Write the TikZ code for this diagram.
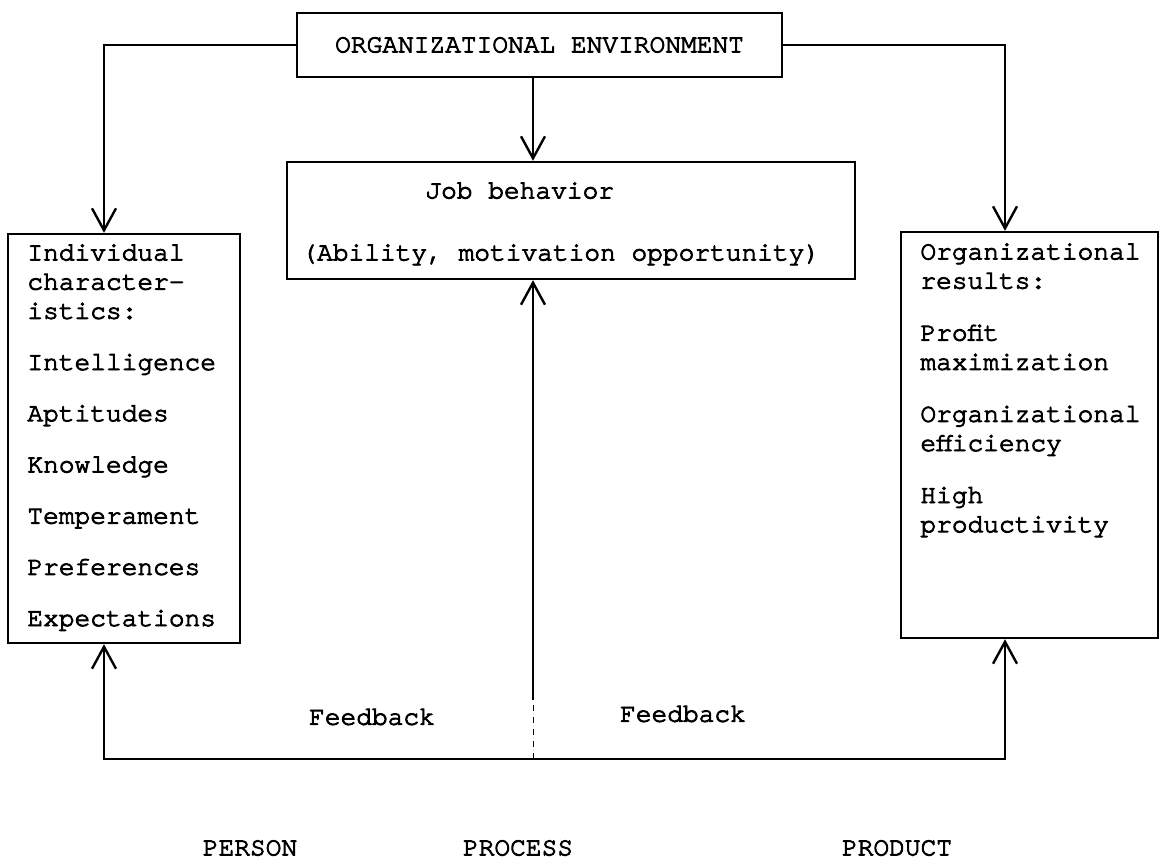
\documentclass[tikz,border=0pt]{standalone}
\usepackage{fontspec}
\setmonofont[FakeBold=3.5]{TeX Gyre Cursor}
\usetikzlibrary{arrows.meta}

\tikzset{
  box/.style={draw, line width=1.2pt, inner sep=0pt},
  txt/.style={font=\ttfamily\fontsize{13.1}{14.6}\selectfont, inner sep=0pt},
  flow/.style={line width=1pt, -{Straight Barb[length=11pt,width=12pt,line width=1.2pt]}},
}

\begin{document}
\begin{tikzpicture}[x=0.5pt,y=0.5pt,yscale=-1]
  \useasboundingbox (0,0) rectangle (1160,859);

  % boxes
  \node[box, txt, minimum width=242.5pt, minimum height=32pt] (env) at (539.5,45) {ORGANIZATIONAL ENVIRONMENT};
  \node[box, minimum width=284pt, minimum height=58.5pt] (job) at (571,220.5) {};
  \node[box, minimum width=116pt, minimum height=204.5pt] (indiv) at (124,438.5) {};
  \node[box, minimum width=128.5pt, minimum height=203pt] (org) at (1029.5,435) {};

  % box texts
  \node[txt, anchor=north west, align=left] (jobtxt) at (301,182) {\hspace*{62pt}Job behavior\\[16.4pt](Ability, motivation opportunity)};
  \node[txt, anchor=north west, align=left] (indivtxt) at (27,244) {Individual\\character-\\istics:\\[11pt]Intelligence\\[11pt]Aptitudes\\[11pt]Knowledge\\[11pt]Temperament\\[11pt]Preferences\\[11pt]Expectations};
  \node[txt, anchor=north west, align=left] (orgtxt) at (920,243) {Organizational\\results:\\[11.4pt]Profit\\maximization\\[11.4pt]Organizational\\efficiency\\[11.4pt]High\\productivity};

  % feedback loop
  \coordinate (lfoot) at (104,759);
  \coordinate (mfoot) at (533,759);
  \coordinate (mgap) at (533,700);
  \coordinate (rfoot) at (1005,759);

  \draw[flow] (env.west) -| (indiv.north -| lfoot);
  \draw[flow] (env.east) -| (org.north -| rfoot);
  \draw[flow] (env.south -| mfoot) -- (job.north -| mfoot);
  \draw[flow] (mfoot) -- (lfoot) -- (indiv.south -| lfoot);
  \draw[flow] (mfoot) -- (rfoot) -- (org.south -| rfoot);
  \draw[line width=0.5pt, dash pattern=on 3pt off 3pt] (mfoot) -- (mgap);
  \draw[flow] (mgap) -- (job.south -| mgap);

  \node[txt] (fbleft) at (372,717) {Feedback};
  \node[txt] (fbright) at (683,714) {Feedback};

  % bottom labels
  \node[txt] (person) at (250,848) {PERSON};
  \node[txt] (process) at (518,848) {PROCESS};
  \node[txt] (product) at (897,848) {PRODUCT};
\end{tikzpicture}
\end{document}
